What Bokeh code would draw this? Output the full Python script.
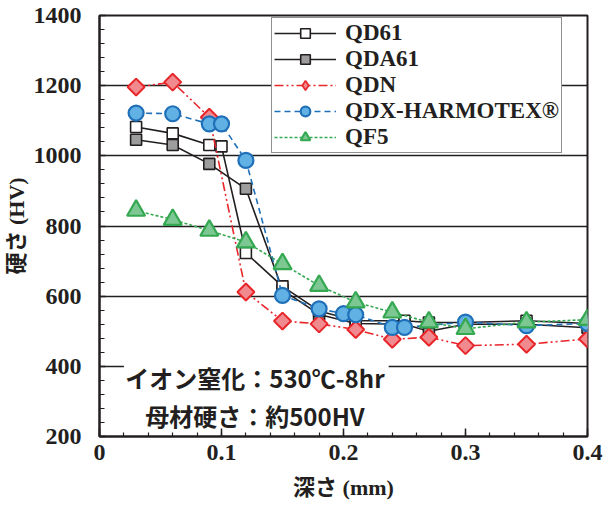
import numpy as np
from bokeh.plotting import figure
from bokeh.models import (Legend, LegendItem, FixedTicker, Label, BoxAnnotation, Range1d)
from bokeh.embed import file_html
from bokeh.resources import INLINE

# ---- data ----
qd61_x = [0.03, 0.06, 0.09, 0.10, 0.12, 0.15, 0.18, 0.21, 0.25, 0.27, 0.30, 0.35, 0.40]
qd61_y = [1082, 1064, 1031, 1027, 723, 628, 558, 530, 530, 525, 525, 530, 522]

qda61_x = [0.03, 0.06, 0.09, 0.12, 0.15, 0.18, 0.21, 0.25, 0.27, 0.30, 0.35, 0.40]
qda61_y = [1046, 1031, 977, 906, 618, 548, 522, 520, 500, 520, 520, 510]

qdn_x = [0.03, 0.06, 0.09, 0.12, 0.15, 0.18, 0.21, 0.24, 0.27, 0.30, 0.35, 0.40]
qdn_y = [1196, 1210, 1110, 612, 529, 521, 505, 477, 483, 459, 463, 478]

qdx_x = [0.03, 0.06, 0.09, 0.10, 0.12, 0.15, 0.18, 0.20, 0.21, 0.24, 0.25, 0.30, 0.35, 0.40]
qdx_y = [1122, 1120, 1091, 1091, 987, 602, 564, 550, 547, 511, 511, 526, 516, 522]

qf5_x = [0.03, 0.06, 0.09, 0.12, 0.15, 0.18, 0.21, 0.24, 0.27, 0.30, 0.35, 0.40]
qf5_y = [844, 818, 787, 754, 692, 630, 583, 554, 526, 507, 526, 533]

series_names = ["QD61", "QDA61", "QDN", "QDX-HARMOTEX®", "QF5"]
x_ticks = [0, 0.1, 0.2, 0.3, 0.4]
x_tick_labels = ["0", "0.1", "0.2", "0.3", "0.4"]
y_ticks = [200, 400, 600, 800, 1000, 1200, 1400]
note_line1 = "イオン窒化：530℃-8hr"
note_line2 = "母材硬さ：約500HV"
x_label = "深さ (mm)"
y_label = "硬さ (HV)"

SERIF = "'Liberation Serif', 'Noto Sans CJK JP'"
JP = "'Noto Sans CJK JP'"
DARK = "#231f20"

p = figure(width=605, height=508, output_backend="svg", toolbar_location=None,
           x_range=Range1d(0, 0.4), y_range=Range1d(200, 1400),
           min_border_left=95, min_border_right=18, min_border_top=15, min_border_bottom=72)
p.background_fill_color = "white"
p.border_fill_color = "white"
p.outline_line_color = DARK
p.outline_line_width = 2

p.xgrid.visible = False
p.ygrid.grid_line_color = DARK
p.ygrid.grid_line_width = 1.4

for ax in (p.xaxis[0], p.yaxis[0]):
    ax.axis_line_color = DARK
    ax.axis_line_width = 2
    ax.major_tick_line_color = DARK
    ax.minor_tick_line_color = DARK
    ax.major_tick_line_width = 1.5
    ax.minor_tick_line_width = 1.2
    ax.major_tick_out = 0
    ax.minor_tick_out = 0
    ax.major_label_text_font = SERIF
    ax.major_label_text_font_style = "bold"
    ax.major_label_text_font_size = "24px"
    ax.major_label_text_color = DARK
    ax.axis_label_text_font = SERIF
    ax.axis_label_text_font_style = "bold"
    ax.axis_label_text_font_size = "22px"
    ax.axis_label_text_color = DARK

p.xaxis.ticker = FixedTicker(ticks=x_ticks, minor_ticks=[i * 0.02 for i in range(21)])
p.xaxis.major_label_overrides = {t: l for t, l in zip(x_ticks, x_tick_labels)}
p.yaxis.ticker = FixedTicker(ticks=y_ticks, minor_ticks=list(range(200, 1401, 40)))
p.xaxis.major_tick_in = 8
p.xaxis.minor_tick_in = 4
p.yaxis.major_tick_in = 6
p.yaxis.minor_tick_in = 5
p.xaxis.major_label_standoff = 8
p.yaxis.major_label_standoff = 18
p.xaxis.axis_label = x_label
p.yaxis.axis_label = y_label
p.xaxis.axis_label_standoff = 12
p.yaxis.axis_label_standoff = 2

# white box behind note
p.add_layout(BoxAnnotation(left=0.02, right=0.237, bottom=218, top=416,
                           fill_color="white", fill_alpha=1, line_alpha=0, level="underlay"))

# ---- series ----
l_qda = p.line(qda61_x, qda61_y, line_color=DARK, line_width=1.6)
m_qda = p.scatter(qda61_x, qda61_y, marker="square", size=11, fill_color="#9d9d9d",
                  line_color=DARK, line_width=1.6)
l_qd = p.line(qd61_x, qd61_y, line_color=DARK, line_width=1.6)
m_qd = p.scatter(qd61_x, qd61_y, marker="square", size=11, fill_color="white",
                 line_color=DARK, line_width=1.6)
l_qdn = p.line(qdn_x, qdn_y, line_color="#e8262a", line_width=1.6, line_dash="9 3 2 3 2 3")
m_qdn = p.scatter(qdn_x, qdn_y, marker="square", angle=np.pi / 4, size=12, fill_color="#f08a8f",
                  line_color="#e8262a", line_width=2)
# hidden legend sample for the diamond (legend markers are drawn without rotation)
k_qdn = p.scatter(qdn_x, qdn_y, marker="diamond", size=12, fill_color="#f08a8f",
                  line_color="#e8262a", line_width=1.6, visible=False)
l_qdx = p.line(qdx_x, qdx_y, line_color="#1f70b8", line_width=1.6, line_dash="6 4")
m_qdx = p.scatter(qdx_x, qdx_y, marker="circle", size=15, fill_color="#62b1e4",
                  line_color="#1f70b8", line_width=2.2)
l_qf5 = p.line(qf5_x, qf5_y, line_color="#35a852", line_width=1.6, line_dash="3 2")
m_qf5 = p.scatter(qf5_x, qf5_y, marker="triangle", size=18, fill_color="#7cc792",
                  line_color="#35a852", line_width=2.2)

legend = Legend(items=[
    LegendItem(label=series_names[0], renderers=[l_qd, m_qd]),
    LegendItem(label=series_names[1], renderers=[l_qda, m_qda]),
    LegendItem(label=series_names[2], renderers=[l_qdn, k_qdn]),
    LegendItem(label=series_names[3], renderers=[l_qdx, m_qdx]),
    LegendItem(label=series_names[4], renderers=[l_qf5, m_qf5]),
], location=(172, 283), orientation="vertical")
legend.margin = 0
legend.padding = 2
legend.spacing = 0
legend.glyph_width = 62
legend.glyph_height = 24
legend.label_height = 24
legend.label_standoff = 9
legend.label_text_font = SERIF
legend.label_text_font_style = "bold"
legend.label_text_font_size = "23px"
legend.label_text_color = DARK
legend.border_line_color = DARK
legend.border_line_width = 1.6
legend.background_fill_color = "white"
legend.background_fill_alpha = 1
p.add_layout(legend)

for txt, yv in ((note_line1, 368), (note_line2, 260)):
    p.add_layout(Label(x=0.1274, y=yv, text=txt, text_align="center", text_baseline="middle",
                       text_font=JP, text_font_style="bold", text_font_size="24px",
                       text_color=DARK))

open("out.html", "w").write(file_html(p, INLINE))
